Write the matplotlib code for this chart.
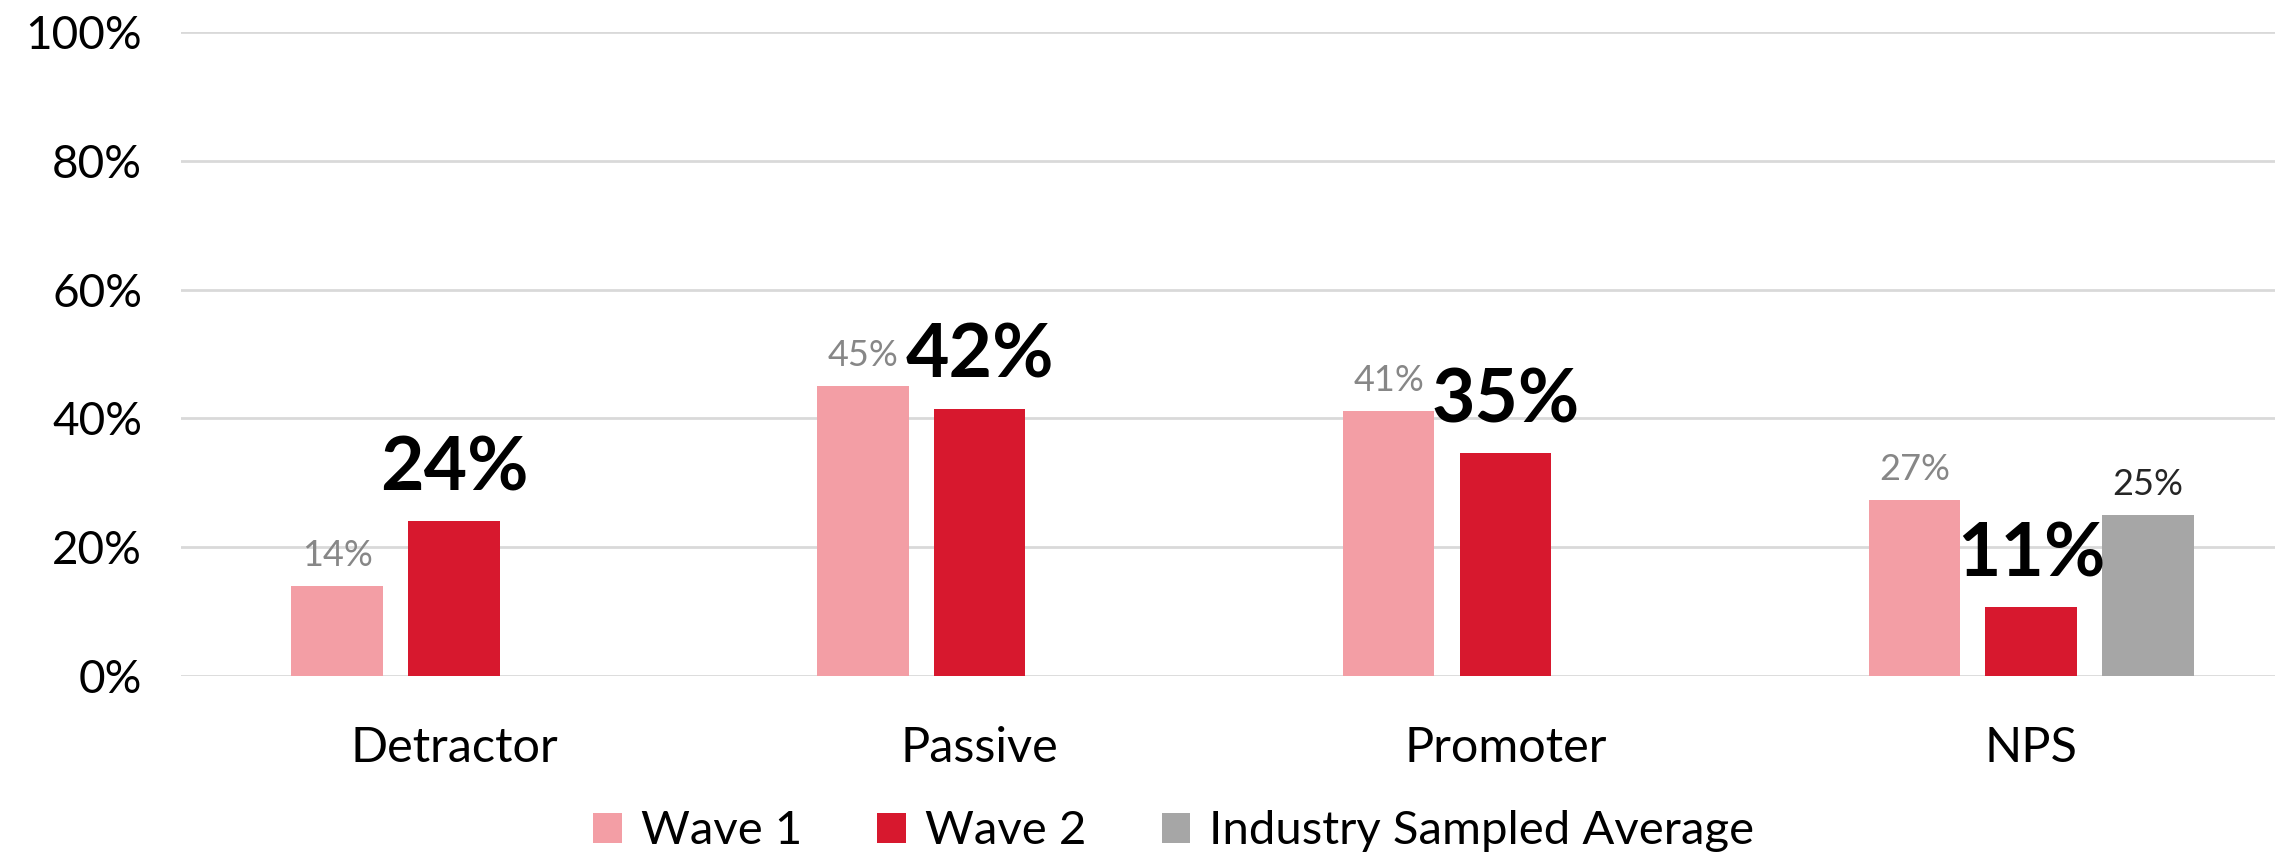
import numpy as np
import matplotlib.pyplot as plt

categories = ['Detractor', 'Passive', 'Promoter', 'NPS']
wave1 = [14, 45, 41.2, 27.3]
wave2 = [24, 41.5, 34.6, 10.7]
industry = [np.nan, np.nan, np.nan, 25]
wave1_labels = ['14%', '45%', '41%', '27%']
wave2_labels = ['24%', '42%', '35%', '11%']
industry_labels = ['', '', '', '25%']
yticks = [0, 20, 40, 60, 80, 100]

plt.rcParams['font.family'] = ['Lato', 'DejaVu Sans']

fig = plt.figure(figsize=(22.75, 8.59), dpi=100)
ax = fig.add_axes([0.0796, 0.213, 0.9204, 0.7497])

x = np.arange(len(categories))
off = 0.222
w = 0.174

b1 = ax.bar(x - off, wave1, w, color='#f39ea5', label='Wave 1', zorder=3)
b2 = ax.bar(x, wave2, w, color='#d7182e', label='Wave 2', zorder=3)
b3 = ax.bar(x + off, industry, w, color='#a6a6a6',
            label='Industry Sampled Average', zorder=3)

ax.bar_label(b1, labels=wave1_labels, padding=10, fontsize=26, color='#878787')
ax.bar_label(b2, labels=wave2_labels, padding=13, fontsize=54,
             fontweight='bold', color='black')
ax.bar_label(b3, labels=industry_labels, padding=10, fontsize=26,
             color='#262626')

ax.set_xlim(-0.519, 3.464)
ax.set_ylim(0, 100)
ax.set_yticks(yticks)
ax.set_yticklabels(['{0}%'.format(t) for t in yticks])
ax.set_xticks(x)
ax.set_xticklabels(categories)
ax.tick_params(axis='y', length=0, pad=28, labelsize=33)
ax.tick_params(axis='x', length=0, pad=36, labelsize=35)
ax.grid(axis='y', color='#d9d9d9', lw=2, zorder=0)
for s in ax.spines.values():
    s.set_visible(False)

ax.legend(loc='center', bbox_to_anchor=(0.474, -0.241), ncol=3,
          frameon=False, fontsize=34, handlelength=0.6, handleheight=0.6,
          handletextpad=0.4, columnspacing=1.6)

fig.savefig('out.png', dpi=100)
